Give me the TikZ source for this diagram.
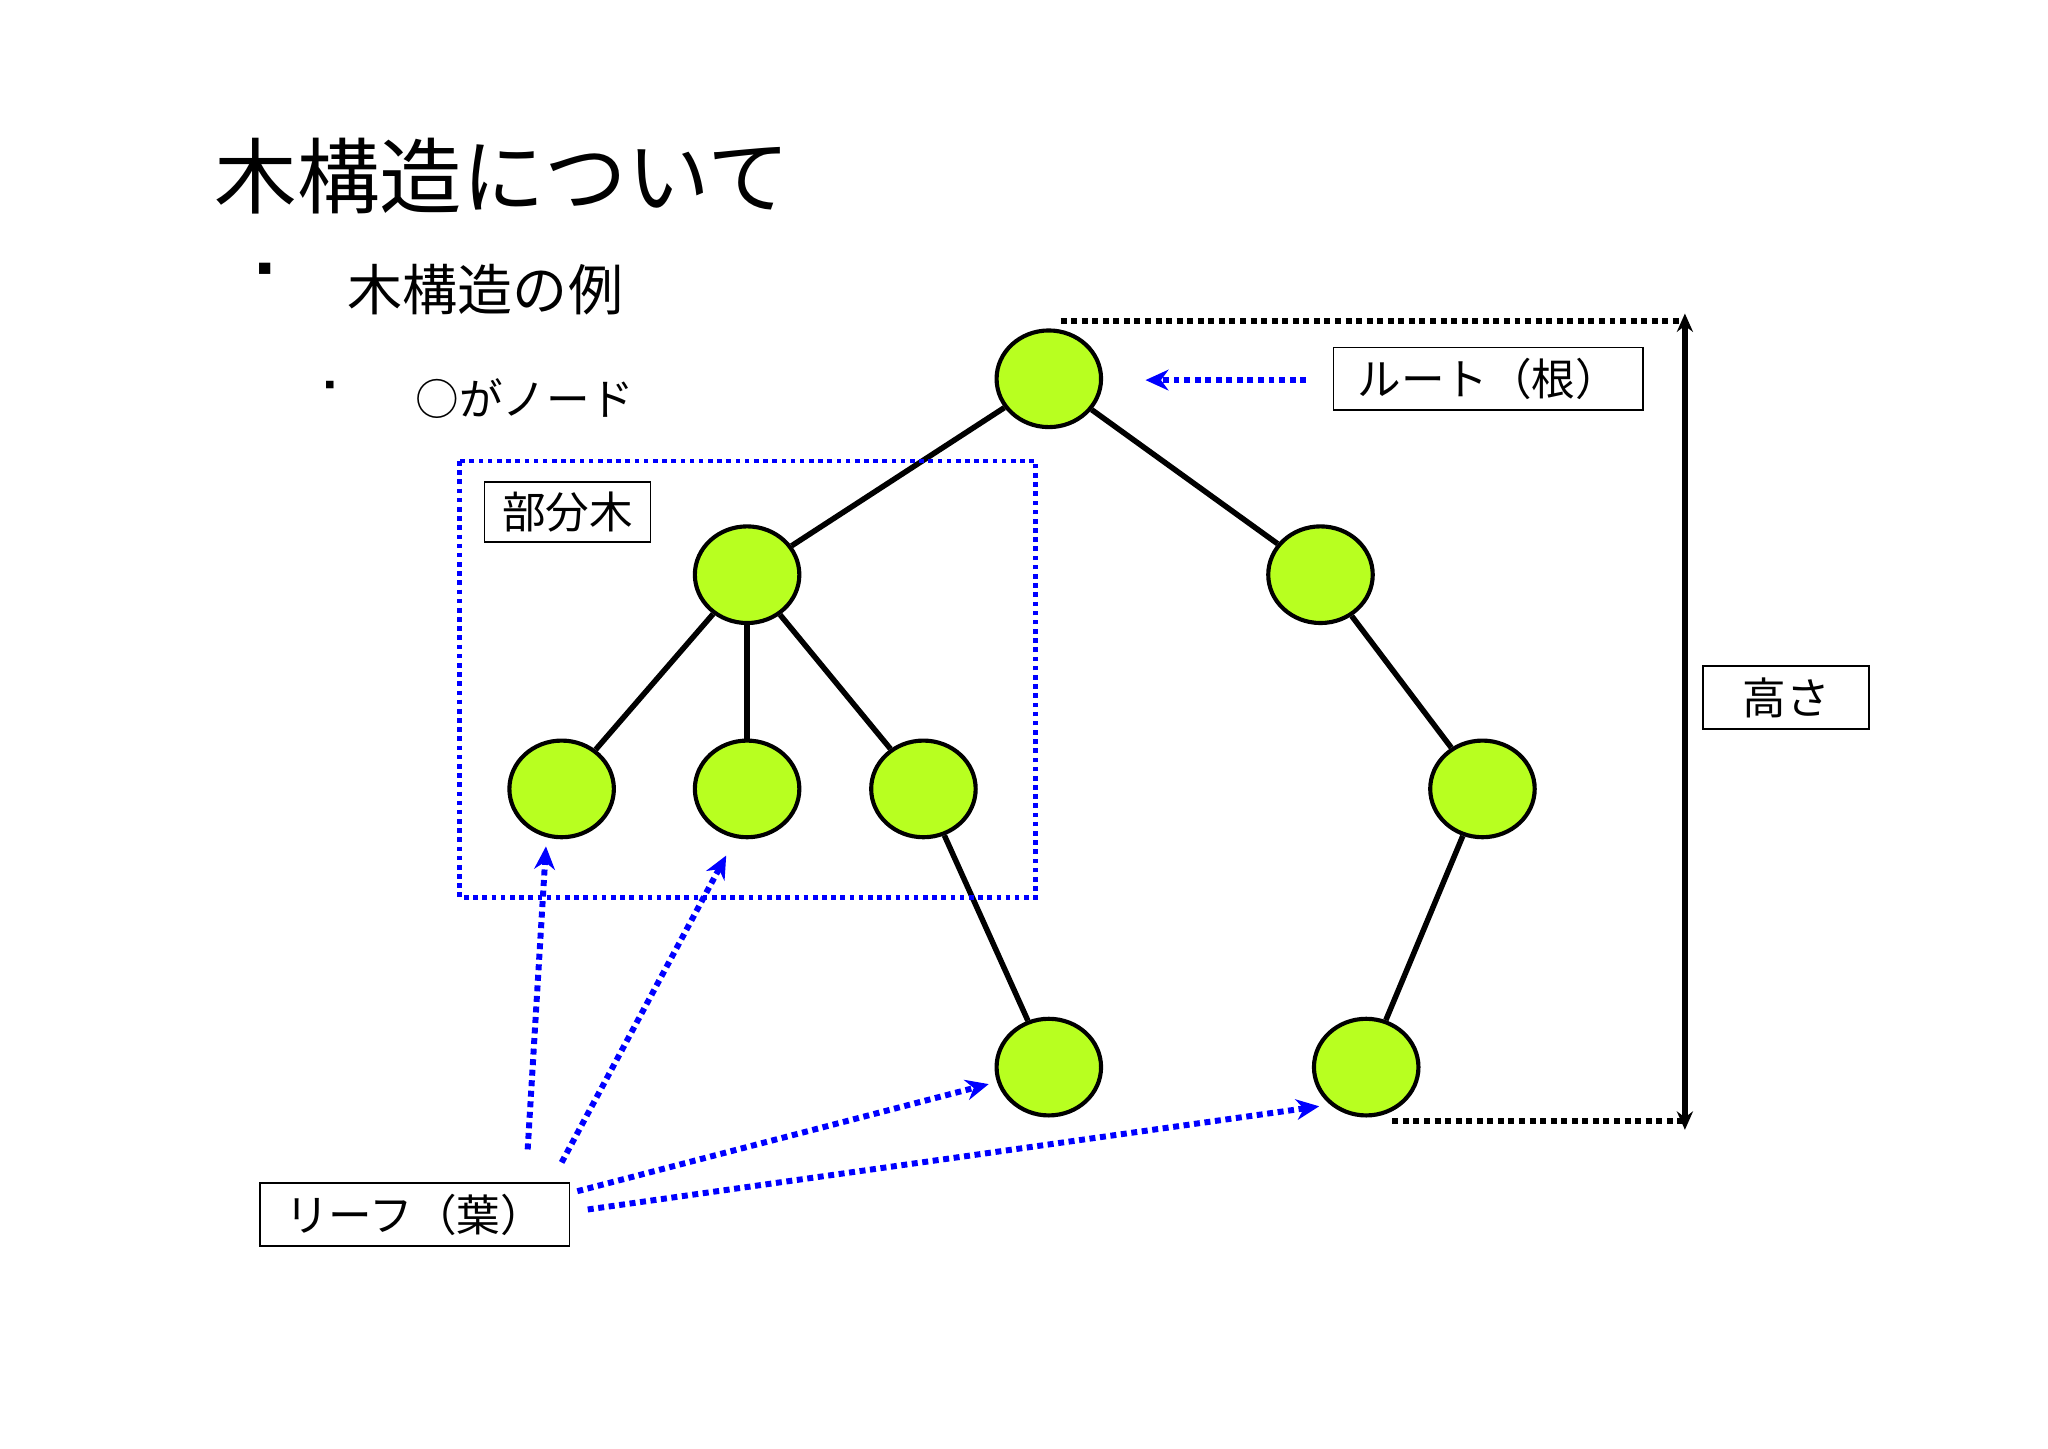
\documentclass[tikz,border=0pt]{standalone}
\usepackage{fontspec}
\setmainfont{Noto Sans CJK JP}
\usetikzlibrary{arrows.meta,shapes.geometric}
\definecolor{leafg}{HTML}{B8FF20}
\begin{document}
\begin{tikzpicture}[x=0.02cm,y=-0.02cm,
  tn/.style={ellipse,draw=black,line width=1.8pt,fill=leafg,minimum width=80*0.02cm,minimum height=74*0.02cm,inner sep=0pt},
  ed/.style={line width=2.4pt},
  lbox/.style={draw=black,line width=0.8pt,inner sep=0pt,font=\fontsize{19pt}{22pt}\selectfont},
  bl/.style={draw=blue,dotted,line width=2.6pt,-{Stealth[length=10pt,width=9pt]}},
  hd/.style={dotted,line width=2.6pt}]
\useasboundingbox (0,0) rectangle (1568,1109);
\node[anchor=west,font=\fontsize{36pt}{40pt}\selectfont] (title) at (158,135) {木構造について};
\node[font=\fontsize{18pt}{20pt}\selectfont] (b1) at (203,210) {▪};
\node[anchor=west,font=\fontsize{24pt}{28pt}\selectfont] (t1) at (260,222) {木構造の例};
\node[font=\fontsize{12pt}{14pt}\selectfont] (b2) at (253,297) {▪};
\node[anchor=west,font=\fontsize{19pt}{22pt}\selectfont] (t2) at (312,305) {○がノード};
\node[tn] (r) at (803,290) {};
\node[tn] (a) at (572,440) {};
\node[tn] (b) at (1011,440) {};
\node[tn] (c) at (430,604) {};
\node[tn] (d) at (572,604) {};
\node[tn] (e) at (707,604) {};
\node[tn] (f) at (1135,604) {};
\node[tn] (g) at (803,817) {};
\node[tn] (h) at (1046,817) {};
\draw[ed] (r)--(a); \draw[ed] (r)--(b);
\draw[ed] (a)--(c); \draw[ed] (a)--(d); \draw[ed] (a)--(e);
\draw[ed] (b)--(f); \draw[ed] (e)--(g); \draw[ed] (f)--(h);
\draw[blue,dotted,line width=2pt] (352,353) rectangle (793,687);
\node[lbox,minimum width=127*0.02cm,minimum height=46*0.02cm,fill=white] (sub) at (434.5,392) {部分木};
\node[lbox,minimum width=237*0.02cm,minimum height=48*0.02cm] (root) at (1139.5,290) {ルート（根）};
\coordinate (ra) at (1000,291);
\draw[bl] (ra) -- (877,291);
\node[lbox,minimum width=127*0.02cm,minimum height=48*0.02cm] (ht) at (1367.5,534) {高さ};
\coordinate (ht1) at (812,246); \coordinate (ht2) at (1290,246);
\coordinate (hb1) at (1066,858); \coordinate (hb2) at (1290,858);
\draw[hd] (ht1)--(ht2); \draw[hd] (hb1)--(hb2);
\coordinate (va) at (1290,240); \coordinate (vb) at (1290,865);
\draw[line width=2.4pt,{Stealth[length=8pt,width=7pt]}-{Stealth[length=8pt,width=7pt]}] (va)--(vb);
\node[lbox,minimum width=237*0.02cm,minimum height=48*0.02cm] (leaf) at (317.5,930) {リーフ（葉）};
\coordinate (l1) at (404,880); \coordinate (l2) at (430,890);
\coordinate (l3) at (442,912); \coordinate (l4) at (450,926);
\draw[bl] (l1) -- (418,648);
\draw[bl] (l2) -- (556,655);
\draw[bl] (l3) -- (757,830);
\draw[bl] (l4) -- (1010,847);
\end{tikzpicture}
\end{document}
